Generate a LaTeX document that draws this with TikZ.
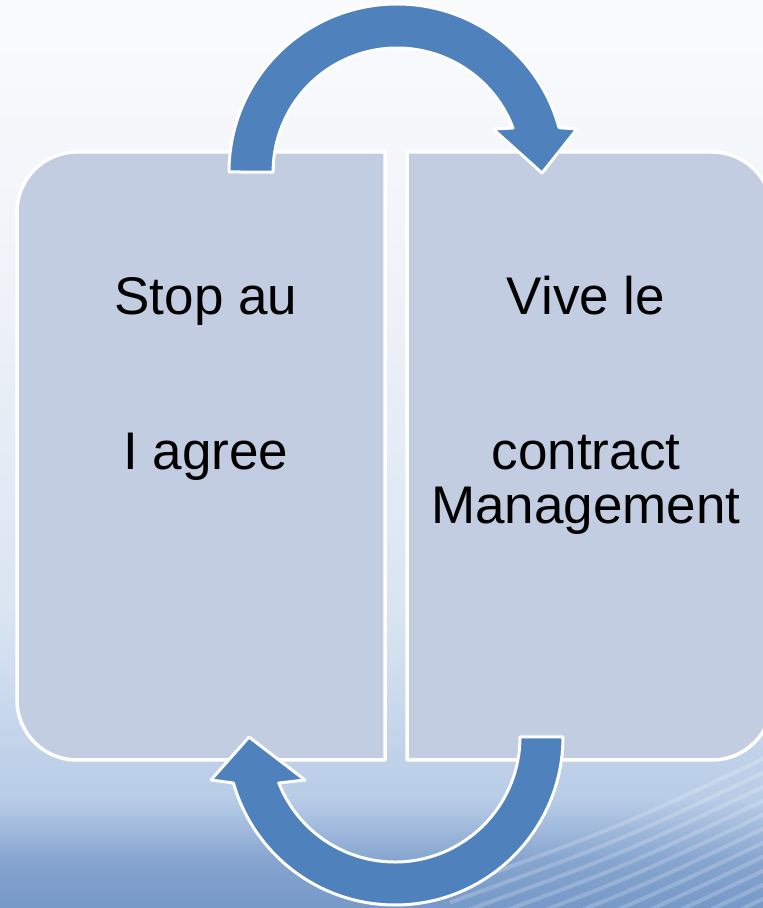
\documentclass[tikz,border=0pt]{standalone}
\usepackage{fontspec}
\setmainfont{Liberation Sans}
\definecolor{arrowblue}{HTML}{4F81BD}
\definecolor{boxfill}{HTML}{C3CDE1}
\definecolor{bgA}{HTML}{FAFBFD}
\definecolor{bgB}{HTML}{EEF2F8}
\definecolor{bgC}{HTML}{D9E4F2}
\definecolor{bgD}{HTML}{B8CCE7}
\definecolor{bgE}{HTML}{86A5CF}
\definecolor{bgF}{HTML}{7699C8}
\tikzset{
  panel/.style={fill=boxfill, draw=white, line width=3.5pt, line join=round},
  bentarrow/.style={fill=arrowblue, draw=white, line width=3pt, line join=round},
  label/.style={font=\fontsize{53}{60}\selectfont, text=black, anchor=base, inner sep=0pt},
  streak/.style={draw=white, opacity=0.2, line width=4pt}
}
\begin{document}
\begin{tikzpicture}[x=1pt,y=1pt]
\useasboundingbox (0,0) rectangle (763,908);
\begin{scope}
\clip (0,0) rectangle (763,908);
% background
\shade[top color=bgA, bottom color=bgB] (0,600) rectangle (763,908);
\shade[top color=bgB, bottom color=bgC] (0,288) rectangle (763,600.5);
\shade[top color=bgC, bottom color=bgD] (0,108) rectangle (763,288.5);
\shade[top color=bgD, bottom color=bgE] (0,48) rectangle (763,108.5);
\shade[top color=bgE, bottom color=bgF] (0,0) rectangle (763,48.5);
% streaks
\foreach \i in {0,...,11}{
  \draw[streak] (450,{151-\i*14-131.5}) .. controls (620,{151-\i*14-70}) .. (790,{151-\i*14+11});
}
% panels
\draw[panel] (385,756) -- (77,756) arc[start angle=90,end angle=180,radius=60]
  -- (17,208) arc[start angle=180,end angle=270,radius=60] -- (385,148) -- cycle;
\draw[panel] (407,756) -- (712,756) arc[start angle=90,end angle=0,radius=60]
  -- (772,208) arc[start angle=0,end angle=-90,radius=60] -- (407,148) -- cycle;
% arrows
\draw[bentarrow] (229,736) arc[start angle=180,end angle=15.3,radius=168]
  -- (577,779) -- (542,735) -- (493,779)
  -- (513,780) arc[start angle=20.8,end angle=180,radius=124] -- cycle;
\draw[bentarrow] (563,171) arc[start angle=0,end angle=-164.1,radius=168]
  -- (211,128) -- (249,171) -- (305,128)
  -- (278.8,125) arc[start angle=-158.4,end angle=0,radius=125] -- cycle;
% texts
\node[label] (l1) at (206,593) {Stop au};
\node[label] (l2) at (206,438) {I agree};
\node[label] (r1) at (586,593) {Vive le};
\node[label] (r2) at (586,438) {contract};
\node[label] (r3) at (586,384) {Management};
\end{scope}
\end{tikzpicture}
\end{document}
